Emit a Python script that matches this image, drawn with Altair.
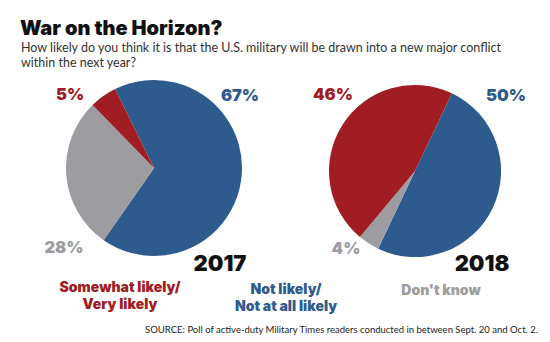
import math
import altair as alt
import pandas as pd

# ---- data ----
years = ["2017", "2017", "2017", "2018", "2018", "2018"]
categories = ["Not likely", "Don't know", "Likely", "Not likely", "Don't know", "Likely"]
values = [67, 28, 5, 50, 4, 46]
orders = [1, 2, 3, 1, 2, 3]

cat_domain = ["Likely", "Not likely", "Don't know"]
cat_colors = ["#a01d23", "#2e5b8e", "#9d9da1"]

df = pd.DataFrame({"year": years, "category": categories, "value": values, "order": orders})

RED, BLUE, GRAY = cat_colors
HEAVY = "Inter"
LIGHT = "Lato"

color = alt.Color("category:N", scale=alt.Scale(domain=cat_domain, range=cat_colors), legend=None)


def pie(year, cx, cy, r, start_deg):
    s = math.radians(start_deg)
    return (
        alt.Chart(df)
        .transform_filter(alt.datum.year == year)
        .mark_arc(radius=r)
        .encode(
            theta=alt.Theta("value:Q", stack=True, scale=alt.Scale(range=[s, s + 2 * math.pi])),
            color=color,
            order=alt.Order("order:Q"),
            x=alt.value(cx),
            y=alt.value(cy),
        )
    )


def txt(text, x, y, size, col, weight=900, align="center", baseline="middle", font=HEAVY):
    return alt.Chart(pd.DataFrame({"t": [text]})).mark_text(
        align=align, baseline=baseline, fontSize=size, fontWeight=weight, color=col, font=font
    ).encode(text="t:N", x=alt.value(x), y=alt.value(y))


pie17 = pie("2017", 154, 168, 88, 333.7)
pie18 = pie("2018", 415, 171, 86, 25.4)

texts = [
    txt("War on the Horizon?", 20, 35, 20, "#111111", align="left", baseline="alphabetic"),
    txt("How likely do you think it is that the U.S. military will be drawn into a new major conflict",
        21, 52, 12.5, "#333333", weight="normal", align="left", baseline="alphabetic", font=LIGHT),
    txt("within the next year?", 21, 66.5, 12.5, "#333333", weight="normal", align="left",
        baseline="alphabetic", font=LIGHT),
    txt("5%", 70, 95, 16.5, RED),
    txt("67%", 240, 96, 16.5, BLUE),
    txt("28%", 64, 248, 16.5, GRAY),
    txt("2017", 220, 264, 22, "#111111"),
    txt("46%", 333, 95, 16.5, RED),
    txt("50%", 506, 96, 16.5, BLUE),
    txt("4%", 346, 249, 16.5, GRAY),
    txt("2018", 482, 264, 22, "#111111"),
    txt("Somewhat likely/", 120, 288, 14, RED),
    txt("Very likely", 120, 305, 14, RED),
    txt("Not likely/", 286, 290, 14, BLUE),
    txt("Not at all likely", 286, 307, 14, BLUE),
    txt("Don't know", 441, 291, 14, GRAY),
    txt("SOURCE: Poll of active-duty Military Times readers conducted in between Sept. 20 and Oct. 2.",
        538, 330, 9.5, "#222222", weight="normal", align="right", font=LIGHT),
]

chart = (
    alt.layer(pie17, pie18, *texts)
    .resolve_scale(theta="independent")
    .properties(width=550, height=342, padding=0, autosize=alt.AutoSizeParams(type="none"), background="white")
    .configure_view(stroke=None)
)

chart.save("out.html", embed_options={"renderer": "svg", "actions": False})
